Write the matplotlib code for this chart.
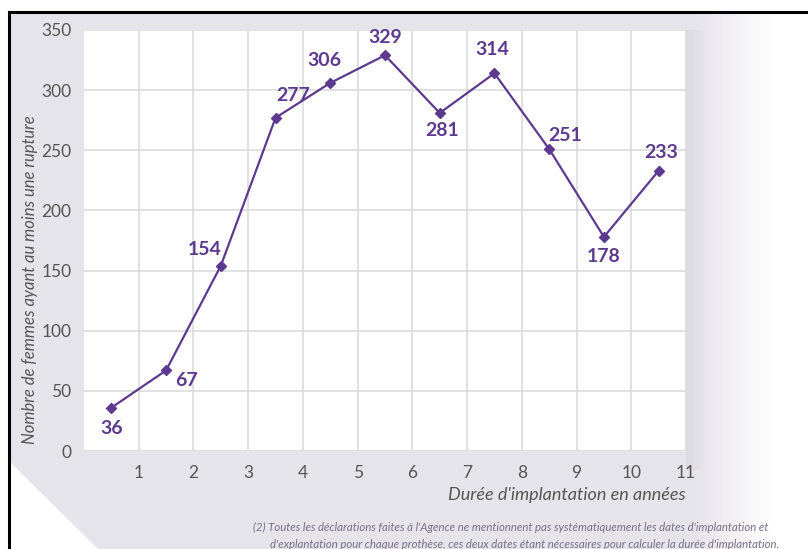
import numpy as np
import matplotlib.pyplot as plt
from matplotlib.patches import Polygon
from matplotlib.lines import Line2D

# data
years = [0.5, 1.5, 2.5, 3.5, 4.5, 5.5, 6.5, 7.5, 8.5, 9.5, 10.5]
ruptures = [36, 67, 154, 277, 306, 329, 281, 314, 251, 178, 233]
xtick_labels = ['1', '2', '3', '4', '5', '6', '7', '8', '9', '10', '11']
# label offsets in pixels (dx, dy)
label_offsets = [(0, -21), (20, -10), (-16, 16), (18, 22), (-6, 22),
                 (0, 18), (2, -18), (-2, 24), (16, 14), (0, -20), (2, 18)]

plt.rcParams['font.family'] = ['Lato', 'DejaVu Sans']

W, H = 808, 549
fig = plt.figure(figsize=(W / 100, H / 100), dpi=100)

# background: lavender gradient fading to white on the right
bg = fig.add_axes([0, 0, 1, 1])
bg.set_xlim(0, W)
bg.set_ylim(H, 0)
bg.axis('off')
xx = np.linspace(0, 1, 400)
grad = np.clip((xx - 0.86) / 0.10, 0, 1)
img = np.ones((2, 400, 3))
base = np.array([0.905, 0.895, 0.925])
for k in range(3):
    img[:, :, k] = base[k] + (1 - base[k]) * grad
bg.imshow(img, extent=[10, W, H, 12], aspect='auto', zorder=0)
# soft shadow along the right of the plot box
for i, a in enumerate(np.linspace(0.10, 0.0, 12)):
    bg.add_patch(Polygon([[686 + i * 2, 30], [688 + i * 2, 30],
                          [688 + i * 2, 470], [686 + i * 2, 470]],
                         closed=True, facecolor='#8a8494', alpha=a,
                         edgecolor='none', zorder=1))
# white triangle lower left
bg.add_patch(Polygon([[10, 462], [10, H], [98, H]], closed=True,
                     facecolor='white', edgecolor='none', zorder=1))
# black frame
bg.add_line(Line2D([9, 9], [12, H], color='black', lw=2.2, zorder=2))
bg.add_line(Line2D([9, W], [12, 12], color='black', lw=2.2, zorder=2))

ax = fig.add_axes([84 / W, 1 - 451 / H, (686 - 84) / W, (451 - 30) / H])
ax.set_facecolor('white')
ax.set_xlim(0, 11)
ax.set_ylim(0, 350)
ax.set_xticks(range(1, 12))
ax.set_xticklabels(xtick_labels)
ax.set_yticks(range(0, 351, 50))
ax.grid(True, color='#d9d9d9', lw=1.1)
ax.set_axisbelow(True)
for s in ax.spines.values():
    s.set_visible(False)
ax.tick_params(length=0, colors='#555555', labelsize=12.5)
ax.tick_params(axis='x', pad=10)
ax.tick_params(axis='y', pad=9)

color = '#5d3a8f'
ax.plot(years, ruptures, color=color, lw=1.6, marker='D', ms=5.5,
        clip_on=False)
for x, y, (dx, dy) in zip(years, ruptures, label_offsets):
    ax.annotate(str(y), (x, y), xytext=(dx, dy), textcoords='offset pixels',
                ha='center', va='center', color=color, fontsize=14,
                fontweight='bold')

fig.text(30 / W, 1 - 280 / H, 'Nombre de femmes ayant au moins une rupture',
         rotation=90, ha='center', va='center', style='italic',
         color='#555555', fontsize=12)
fig.text(686 / W, 1 - 495 / H, "Durée d'implantation en années",
         ha='right', va='center', style='italic', color='#555555', fontsize=13)
fig.text(253 / W, 1 - 527 / H,
         "(2) Toutes les déclarations faites à l'Agence ne mentionnent pas "
         "systématiquement les dates d'implantation et",
         ha='left', va='center', style='italic', color='#7a6f86', fontsize=8.2)
fig.text(270 / W, 1 - 545 / H,
         "d'explantation pour chaque prothèse, ces deux dates étant nécessaires "
         "pour calculer la durée d'implantation.",
         ha='left', va='center', style='italic', color='#7a6f86', fontsize=8.2)

fig.savefig('out.png', dpi=100)
